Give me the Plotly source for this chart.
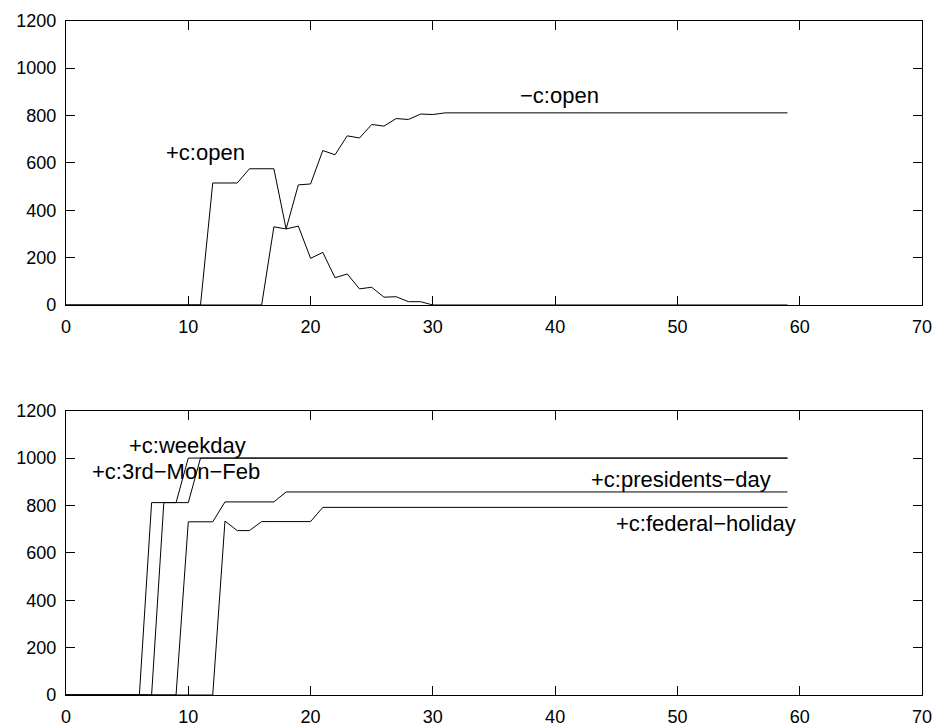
import plotly.graph_objects as go

# ---------------- data ----------------
steps = list(range(60))

# top panel
plus_open = [0]*12 + [515, 515, 515, 575, 575, 575, 321, 333, 197, 222, 115, 131,
                      68, 75, 33, 35, 14, 14, 0] + [0]*29
minus_open = [0]*17 + [330, 321, 507, 511, 652, 634, 714, 705, 762, 755, 787, 783,
                       806, 804] + [811]*29

# bottom panel
weekday = [0]*7 + [812, 812, 812] + [1000]*50
third_mon_feb = [0]*8 + [812, 812, 812] + [1000]*49
presidents_day = [0]*10 + [731, 731, 731, 815, 815, 815, 815, 815] + [857]*42
federal_holiday = [0]*13 + [734, 694, 694, 732, 732, 732, 732, 732] + [792]*39

top_labels = [("+c:open", 8, 645), ("\u2212c:open", 37, 885)]
bottom_labels = [("+c:weekday", 5, 1055), ("+c:3rd\u2212Mon\u2212Feb", 2, 943),
                 ("+c:presidents\u2212day", 42.8, 910),
                 ("+c:federal\u2212holiday", 44.8, 725)]

x_ticks = [0, 10, 20, 30, 40, 50, 60, 70]
y_ticks = [0, 200, 400, 600, 800, 1000, 1200]

# ---------------- figure ----------------
W, H = 936, 728
fig = go.Figure()

line = dict(color="black", width=1)
for ys in (plus_open, minus_open):
    fig.add_trace(go.Scatter(x=steps, y=ys, mode="lines", line=line,
                             xaxis="x", yaxis="y", showlegend=False))
for ys in (weekday, third_mon_feb, presidents_day, federal_holiday):
    fig.add_trace(go.Scatter(x=steps, y=ys, mode="lines", line=line,
                             xaxis="x2", yaxis="y2", showlegend=False))

font = dict(family="Liberation Sans, Arial, Helvetica, sans-serif", size=18, color="black")

ax_common = dict(showgrid=False, zeroline=False, showline=True, linecolor="black",
                 linewidth=1.2, mirror="ticks", ticks="inside", ticklen=9,
                 tickcolor="black", tickwidth=1, tickfont=font, automargin=False)

xdom = [66/W, 922/W]
fig.update_layout(
    template="none",
    width=W, height=H, margin=dict(l=0, r=0, t=0, b=0, pad=0, autoexpand=False),
    paper_bgcolor="white", plot_bgcolor="white", font=font,
    xaxis=dict(domain=xdom, range=[0, 70], tickvals=x_ticks, anchor="y",
               ticklabelstandoff=5, **ax_common),
    yaxis=dict(domain=[1-305/H, 1-20.7/H], range=[0, 1200], tickvals=y_ticks,
               anchor="x", ticklabelstandoff=5, **ax_common),
    xaxis2=dict(domain=xdom, range=[0, 70], tickvals=x_ticks, anchor="y2",
                ticklabelstandoff=5, **ax_common),
    yaxis2=dict(domain=[1-695/H, 1-410.7/H], range=[0, 1200], tickvals=y_ticks,
                anchor="x2", ticklabelstandoff=5, **ax_common),
)

ann_font = dict(family="Liberation Sans, Arial, Helvetica, sans-serif", size=22, color="black")
anns = []
for txt, x, y in top_labels:
    anns.append(dict(text=txt, x=x, y=y, xref="x", yref="y", xanchor="left",
                     yanchor="middle", showarrow=False, font=ann_font))
for txt, x, y in bottom_labels:
    anns.append(dict(text=txt, x=x, y=y, xref="x2", yref="y2", xanchor="left",
                     yanchor="middle", showarrow=False, font=ann_font))
fig.update_layout(annotations=anns)

fig.write_html("out.html")
